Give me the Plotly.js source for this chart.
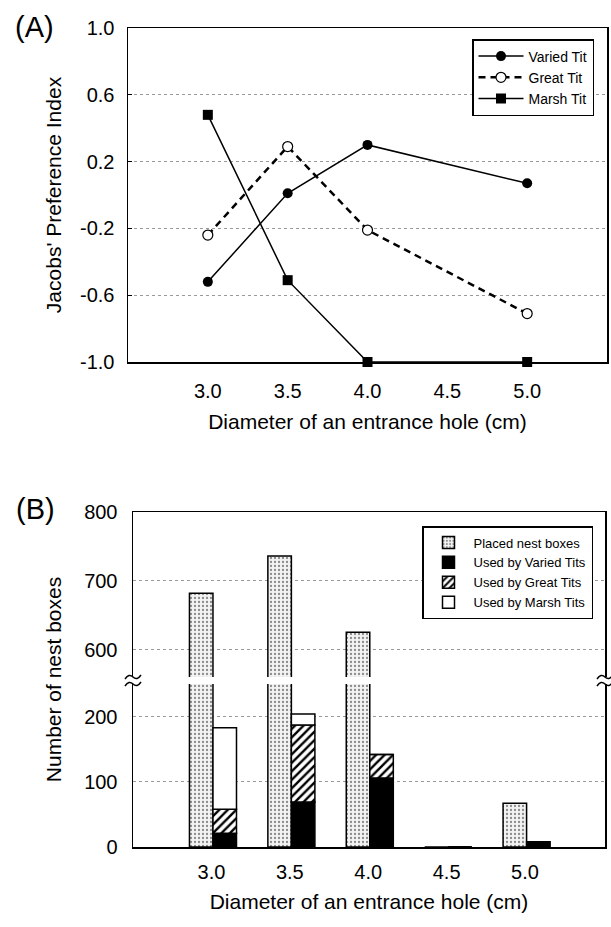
<!DOCTYPE html>
<html><head><meta charset="utf-8">
<script src="https://cdn.plot.ly/plotly-3.0.1.min.js"></script>
<style>html,body{margin:0;padding:0;background:#fff}#chart{width:611px;height:927px}</style>
</head><body><div id="chart"></div>
<script>
// ---- Panel A data ----
const diametersA = [3.0, 3.5, 4.0, 5.0];
const variedIndex = [-0.52, 0.01, 0.30, 0.07];
const greatIndex = [-0.24, 0.29, -0.21, -0.71];
const marshIndex = [0.48, -0.51, -1.0, -1.0];
const yTickValsA = [-1.0, -0.6, -0.2, 0.2, 0.6, 1.0];
const yTickTextA = ['-1.0', '-0.6', '-0.2', '0.2', '0.6', '1.0'];
const xTickVals = [3.0, 3.5, 4.0, 4.5, 5.0];
const xTickText = ['3.0', '3.5', '4.0', '4.5', '5.0'];

// ---- Panel B data ----
const diametersB = [3.0, 3.5, 4.0, 4.5, 5.0];
const placedBoxes = [682, 736, 625, 0, 67];
const usedVaried = [21, 69, 106, 0, 8];
const usedGreat = [37, 118, 36, 0, 0];
const usedMarsh = [125, 17, 0, 0, 0];
const yTickLowB = [0, 100, 200];
const yTickHighB = [600, 700, 800];

const W = 611, H = 927;
const px = v => v / W;
const py = v => 1 - v / H;
const FONT = 'Liberation Sans, Arial, Helvetica, sans-serif';

const greatBase = usedVaried.slice();
const marshBase = usedVaried.map((v, i) => v + usedGreat[i]);

const placedMarker = {color: '#eeeeee',
  pattern: {shape: '.', fgcolor: '#8a8a8a', bgcolor: '#f3f3f3', size: 4, solidity: 0.25},
  line: {color: '#000', width: 1.5}};

const traces = [
  {x: diametersA, y: variedIndex, name: 'Varied Tit', type: 'scatter', mode: 'lines+markers',
   line: {color: '#000', width: 1.5}, marker: {symbol: 'circle', size: 10, color: '#000'},
   xaxis: 'x', yaxis: 'y', legend: 'legend', cliponaxis: false},
  {x: diametersA, y: greatIndex, name: 'Great Tit', type: 'scatter', mode: 'lines+markers',
   line: {color: '#000', width: 2.5, dash: '7px,5px'},
   marker: {symbol: 'circle', size: 10, color: '#fff', line: {color: '#000', width: 1.2}},
   xaxis: 'x', yaxis: 'y', legend: 'legend', cliponaxis: false},
  {x: diametersA, y: marshIndex, name: 'Marsh Tit', type: 'scatter', mode: 'lines+markers',
   line: {color: '#000', width: 1.5}, marker: {symbol: 'square', size: 10, color: '#000'},
   xaxis: 'x', yaxis: 'y', legend: 'legend', cliponaxis: false},

  {x: diametersB, y: placedBoxes, name: 'Placed nest boxes', type: 'bar', offset: -0.14, width: 0.15,
   marker: placedMarker, xaxis: 'x2', yaxis: 'y2', legend: 'legend2'},
  {x: diametersB, y: usedVaried, name: 'Used by Varied Tits', type: 'bar', offset: 0.01, width: 0.15,
   marker: {color: '#000', line: {color: '#000', width: 1.5}},
   xaxis: 'x2', yaxis: 'y2', legend: 'legend2'},
  {x: diametersB, y: usedGreat, base: greatBase, name: 'Used by Great Tits', type: 'bar', offset: 0.01, width: 0.15,
   marker: {color: '#fff', pattern: {shape: '/', fgcolor: '#000', bgcolor: '#fff', size: 6, solidity: 0.4},
            line: {color: '#000', width: 1.5}},
   xaxis: 'x2', yaxis: 'y2', legend: 'legend2'},
  {x: diametersB, y: usedMarsh, base: marshBase, name: 'Used by Marsh Tits', type: 'bar', offset: 0.01, width: 0.15,
   marker: {color: '#fff', line: {color: '#000', width: 1.5}},
   xaxis: 'x2', yaxis: 'y2', legend: 'legend2'},
  {x: diametersB, y: placedBoxes, name: 'Placed nest boxes', type: 'bar', offset: -0.14, width: 0.15,
   marker: placedMarker, xaxis: 'x3', yaxis: 'y3', showlegend: false},
  {x: [], y: [], type: 'scatter', mode: 'markers', xaxis: 'x2', yaxis: 'y4', showlegend: false, hoverinfo: 'skip'}
];

function tilde(xc, yc) {
  const p = (x, y) => px(x).toFixed(5) + ',' + py(y).toFixed(5);
  return 'M' + p(xc - 8, yc + 2) + ' Q' + p(xc - 4, yc - 4) + ' ' + p(xc, yc) +
         ' Q' + p(xc + 4, yc + 4) + ' ' + p(xc + 8, yc - 2);
}
const breakShapes = [[133, 677], [133, 684], [605, 677], [605, 684]].map(([x, y]) => ({
  type: 'path', xref: 'paper', yref: 'paper', path: tilde(x, y), line: {color: '#000', width: 1.5}
}));

const axisCommon = {linecolor: '#000', linewidth: 1.5, zeroline: false, showline: true,
  tickfont: {family: FONT, size: 20, color: '#000'}};
const gridCommon = {showgrid: true, gridcolor: '#9a9a9a', griddash: 'dot', gridwidth: 1};
const titleFont = {family: FONT, size: 21, color: '#000'};

const layout = {
  width: W, height: 927, margin: {l: 0, r: 0, t: 0, b: 0},
  paper_bgcolor: '#fff', plot_bgcolor: 'rgba(0,0,0,0)',
  font: {family: FONT, color: '#000'},
  barmode: 'overlay', showlegend: true,
  xaxis: Object.assign({}, axisCommon, {domain: [px(128), px(607)], range: [2.5, 5.5], anchor: 'y',
    mirror: true, showgrid: false, tickvals: xTickVals, ticktext: xTickText, ticks: '',
    ticklabelstandoff: 10,
    title: {text: 'Diameter of an entrance hole (cm)', font: titleFont, standoff: 14}}),
  yaxis: Object.assign({}, axisCommon, gridCommon, {domain: [py(362), py(28)], range: [-1, 1], anchor: 'x',
    mirror: true, tickvals: yTickValsA, ticktext: yTickTextA, ticks: 'inside', ticklen: 4, tickcolor: '#000',
    ticklabelstandoff: 8,
    title: {text: "Jacobs' Preference Index", font: titleFont, standoff: 12}}),
  xaxis2: Object.assign({}, axisCommon, {domain: [px(133), px(605)], range: [2.5, 5.51], anchor: 'y2',
    mirror: false, showgrid: false, tickvals: xTickVals, ticktext: xTickText, ticks: '',
    ticklabelstandoff: 6,
    title: {text: 'Diameter of an entrance hole (cm)', font: titleFont, standoff: 13}}),
  yaxis2: Object.assign({}, axisCommon, gridCommon, {domain: [py(847), py(684)], range: [0, 250], anchor: 'x2',
    mirror: true, tickvals: yTickLowB, ticks: '', ticklabelstandoff: 10}),
  xaxis3: Object.assign({}, axisCommon, {domain: [px(133), px(605)], range: [2.5, 5.51], anchor: 'y3',
    matches: 'x2', side: 'top', mirror: false, showgrid: false, showticklabels: false, ticks: ''}),
  yaxis3: Object.assign({}, axisCommon, gridCommon, {domain: [py(677), py(512)], range: [560, 800], anchor: 'x3',
    mirror: true, tickvals: yTickHighB, ticks: '', ticklabelstandoff: 10}),
  yaxis4: {domain: [py(847), py(512)], range: [0, 1], anchor: 'free', position: px(133),
    showline: false, showgrid: false, zeroline: false, showticklabels: false, ticks: '',
    title: {text: 'Number of nest boxes', font: titleFont, standoff: 64}},
  legend: {x: px(594), xanchor: 'right', y: py(39), yanchor: 'top', bgcolor: '#fff',
    bordercolor: '#000', borderwidth: 1.5, font: {family: FONT, size: 14}, traceorder: 'normal',
    itemwidth: 45},
  legend2: {x: px(593), xanchor: 'right', y: py(526), yanchor: 'top', bgcolor: '#fff',
    bordercolor: '#000', borderwidth: 1.5, font: {family: FONT, size: 13}, traceorder: 'normal',
    itemwidth: 40},
  annotations: [
    {text: '(A)', x: px(34), y: py(27), xref: 'paper', yref: 'paper', showarrow: false,
     xanchor: 'center', yanchor: 'middle', font: {family: FONT, size: 29}},
    {text: '(B)', x: px(35), y: py(509), xref: 'paper', yref: 'paper', showarrow: false,
     xanchor: 'center', yanchor: 'middle', font: {family: FONT, size: 29}}
  ],
  shapes: breakShapes
};

Plotly.newPlot('chart', traces, layout, {staticPlot: true, displayModeBar: false});
</script></body></html>
